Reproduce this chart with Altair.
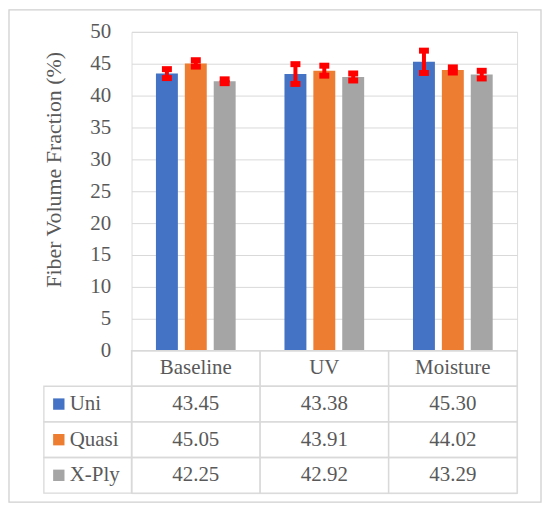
import altair as alt
import pandas as pd

categories = ["Baseline", "UV", "Moisture"]
series = ["Uni", "Quasi", "X-Ply"]
colors = ["#4472C4", "#ED7D31", "#A5A5A5"]
uni = [43.45, 43.38, 45.30]
quasi = [45.05, 43.91, 44.02]
xply = [42.25, 42.92, 43.29]
uni_err = [0.70, 1.55, 1.75]
quasi_err = [0.50, 0.78, 0.40]
xply_err = [0.30, 0.55, 0.60]
y_ticks = [0, 5, 10, 15, 20, 25, 30, 35, 40, 45, 50]
table_rows = ["header"] + series

FONT = "Liberation Serif"
TXT = "#595959"
GRID = "#D9D9D9"

recs = []
for s, vals, errs in zip(series, [uni, quasi, xply], [uni_err, quasi_err, xply_err]):
    for c, v, e in zip(categories, vals, errs):
        recs.append({"category": c, "series": s, "value": v, "lo": v - e, "hi": v + e})
df = pd.DataFrame(recs)

cells = [{"category": c, "row": "header", "text": c} for c in categories]
for r in recs:
    cells.append({"category": r["category"], "row": r["series"], "text": f"{r['value']:.2f}"})
cells_df = pd.DataFrame(cells)
legend_df = pd.DataFrame({"row": series, "series": series})

x_enc = alt.X("category:N", sort=categories, axis=None,
              scale=alt.Scale(domain=categories, paddingInner=0, paddingOuter=0))
xoff = alt.XOffset("series:N", sort=series,
                   scale=alt.Scale(domain=series, paddingInner=0.241, paddingOuter=0.845))
color_enc = alt.Color("series:N", scale=alt.Scale(domain=series, range=colors), legend=None)

base = alt.Chart(df)
bars = base.mark_bar().encode(
    x=x_enc, xOffset=xoff,
    y=alt.Y("value:Q",
            scale=alt.Scale(domain=[0, 50], range=[320, 0], nice=False, zero=True),
            axis=alt.Axis(values=y_ticks, title="Fiber Volume Fraction (%)", grid=True,
                          gridColor=GRID, domain=False, ticks=False, labelPadding=21,
                          labelFontSize=21, labelColor=TXT, labelFont=FONT,
                          titleFontSize=22, titleColor=TXT, titleFont=FONT,
                          titleFontWeight="normal", titlePadding=24, titleY=138)),
    color=color_enc,
)
rules = base.mark_rule(color="#FF0000", strokeWidth=4).encode(
    x=x_enc, xOffset=xoff, y=alt.Y("lo:Q"), y2="hi:Q")
cap_lo = base.mark_tick(color="#FF0000", thickness=6, size=10, opacity=1).encode(
    x=x_enc, xOffset=xoff, y=alt.Y("lo:Q"))
cap_hi = base.mark_tick(color="#FF0000", thickness=6, size=10, opacity=1).encode(
    x=x_enc, xOffset=xoff, y=alt.Y("hi:Q"))
plot = alt.layer(bars, rules, cap_lo, cap_hi)

y_row = alt.Y("row:N", sort=table_rows, axis=None,
              scale=alt.Scale(domain=table_rows, range=[320, 463], paddingInner=0, paddingOuter=0))

cell_rect = alt.Chart(cells_df).mark_rect(fill="transparent", stroke=GRID, strokeWidth=1.3).encode(
    x=x_enc, y=y_row)
cell_text = alt.Chart(cells_df).mark_text(font=FONT, fontSize=21, color=TXT, baseline="middle").encode(
    x=x_enc, y=y_row, text="text:N")
leg_rect = alt.Chart(legend_df).mark_rect(fill="transparent", stroke=GRID, strokeWidth=1.3).encode(
    x=alt.value(-88), x2=alt.value(0), y=y_row)
leg_sq = alt.Chart(legend_df).mark_square(size=130, opacity=1, filled=True).encode(
    x=alt.value(-73), y=y_row, color=color_enc)
leg_text = alt.Chart(legend_df).mark_text(font=FONT, fontSize=21, color=TXT, align="left",
                                          baseline="middle").encode(
    x=alt.value(-62), y=y_row, text="row:N")
table = alt.layer(cell_rect, leg_rect, leg_sq, cell_text, leg_text)

frame = alt.Chart(pd.DataFrame({"k": [0]})).mark_rect(
    fill="transparent", stroke="#D0D0D0", strokeWidth=1.3).encode(
    x=alt.value(-123), x2=alt.value(411), y=alt.value(-22), y2=alt.value(472))

chart = alt.layer(frame, plot, table).resolve_scale(y="independent").properties(
    width=387, height=463,
    autosize=alt.AutoSizeParams(type="none"),
    padding={"left": 124, "top": 23, "right": 25, "bottom": 10},
).configure_view(stroke=None).configure(font=FONT)

chart.save("out.html", embed_options={"renderer": "svg", "actions": False})
